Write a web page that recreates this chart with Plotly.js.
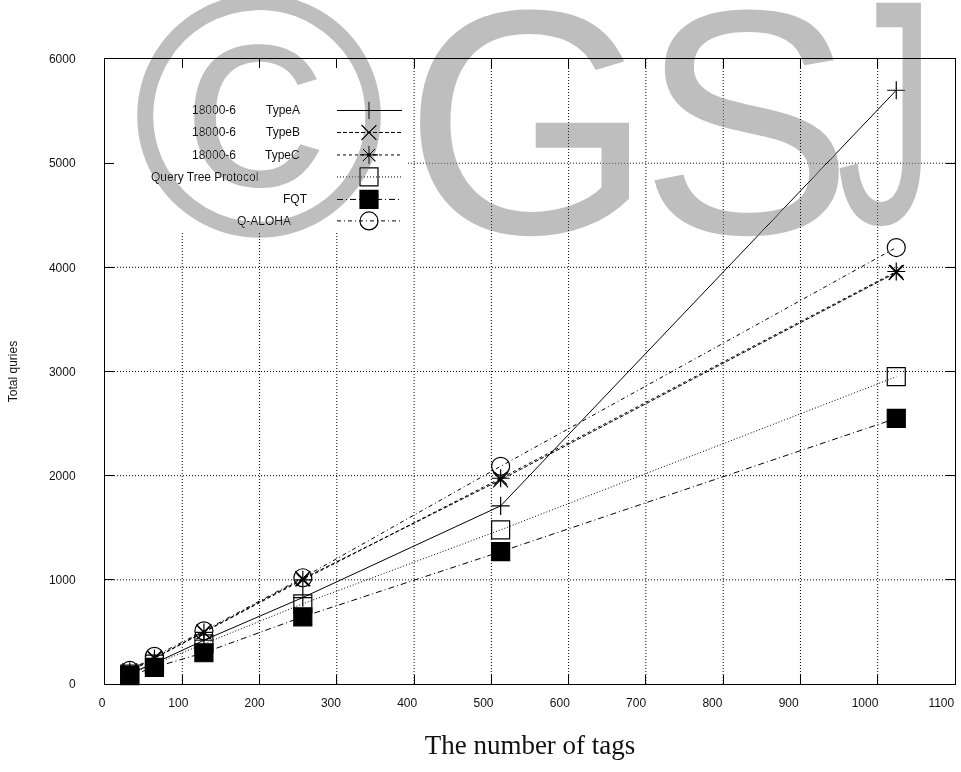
<!DOCTYPE html>
<html>
<head>
<meta charset="utf-8">
<script src="https://cdn.plot.ly/plotly-3.0.1.min.js"></script>
<style>
  html, body { margin: 0; padding: 0; background: #ffffff; }
  #wrap { position: relative; width: 961px; height: 772px; overflow: hidden; }
  #chart { position: absolute; left: 0; top: 0; width: 961px; height: 772px; }
  #wm { position: absolute; left: 0; top: 0; width: 961px; height: 772px;
        pointer-events: none; mix-blend-mode: darken; }
  #wm span { position: absolute; font-family: "Liberation Sans", Arial, sans-serif;
        color: #bebebe; line-height: 1; white-space: nowrap; }
</style>
</head>
<body>
<div id="wrap">
  <div id="chart"></div>
  <div id="wm">
    <span style="left:132px; top:-57px; font-size:345px;">©</span>
    <span style="left:404px; top:-38px; font-size:320px;">G</span>
    <span style="left:640px; top:-38px; font-size:320px;">S</span>
    <span style="left:792px; top:-48px; font-size:320px; transform: scaleX(0.62); transform-origin: 117px 0;">J</span>
  </div>
</div>
<script>
// ---- data ----
const tags      = [32, 64, 128, 256, 512, 1024];
const typeA     = [100, 200, 420, 830, 1710, 5700];
const typeB     = [125, 250, 500, 1010, 1960, 3950];
const typeC     = [120, 245, 495, 1000, 1975, 3960];
const queryTree = [95, 190, 385, 770, 1480, 2950];
const fqt       = [80, 160, 300, 645, 1270, 2550];
const qAloha    = [130, 265, 510, 1020, 2090, 4190];

const seriesNames = ["18000-6 TypeA", "18000-6 TypeB", "18000-6 TypeC",
                     "Query Tree Protocol", "FQT", "Q-ALOHA"];
const seriesData  = [typeA, typeB, typeC, queryTree, fqt, qAloha];
const xTicks = [0, 100, 200, 300, 400, 500, 600, 700, 800, 900, 1000, 1100];
const yTicks = [0, 1000, 2000, 3000, 4000, 5000, 6000];

// ---- styles ----
const styles = [
  {dash: "solid",             symbol: "cross-thin-open",  size: 13},
  {dash: "4px,2px",           symbol: "x-thin-open",      size: 15},
  {dash: "3px,3px",           symbol: "asterisk-open",    size: 15},
  {dash: "1px,2px",           symbol: "square-open",      size: 18},
  {dash: "6px,3px,1px,3px",   symbol: "square",           size: 18},
  {dash: "4px,3px,1px,3px",   symbol: "circle-open",      size: 18}
];

// legend layout (pixel coordinates of the page)
const legRows = [110.5, 132.5, 155, 177, 199.5, 221];
const legLeftText  = ["18000-6", "18000-6", "18000-6", null, null, null];
const legRightText = ["TypeA", "TypeB", "TypeC", "Query Tree Protocol", "FQT", "Q-ALOHA"];
const legRightEdge = [302, 302, 302, 260, 310, 293];
const keyX0 = 337, keyX1 = 402, keyXm = 369;
// legend box (no grid inside), in data units
const keyBoxXmax = 392, keyBoxYmin = 4340;

const traces = [];
seriesData.forEach((ys, i) => {
  const st = styles[i];
  traces.push({
    x: tags, y: ys, name: seriesNames[i], type: "scatter", mode: "lines+markers",
    line: {color: "#000", width: 1, dash: st.dash},
    marker: {symbol: st.symbol, size: st.size, color: "#000",
             line: {color: "#000", width: 1.2}},
    showlegend: false, cliponaxis: false
  });
});
// legend keys
legRows.forEach((ry, i) => {
  const st = styles[i];
  traces.push({
    x: [keyX0, keyX1], y: [ry, ry], xaxis: "x2", yaxis: "y2", type: "scatter",
    mode: "lines", line: {color: "#000", width: 1, dash: st.dash},
    showlegend: false
  });
  traces.push({
    x: [keyXm], y: [ry], xaxis: "x2", yaxis: "y2", type: "scatter",
    mode: "markers",
    marker: {symbol: st.symbol, size: st.size, color: "#000",
             line: {color: "#000", width: 1.2}},
    showlegend: false
  });
});
// invisible trace that carries the tick-label axis
traces.push({x: [0], y: [0], xaxis: "x3", yaxis: "y", type: "scatter", mode: "markers",
             marker: {opacity: 0}, showlegend: false});

const annotations = [];
legRows.forEach((ry, i) => {
  annotations.push({
    x: legRightEdge[i], y: ry, xref: "x2", yref: "y2", text: legRightText[i],
    showarrow: false, xanchor: "right", yanchor: "middle",
    font: {family: "Liberation Sans, Arial, sans-serif", size: 12, color: "#111"}
  });
  if (legLeftText[i]) {
    annotations.push({
      x: 238, y: ry, xref: "x2", yref: "y2", text: legLeftText[i],
      showarrow: false, xanchor: "right", yanchor: "middle",
      font: {family: "Liberation Sans, Arial, sans-serif", size: 12, color: "#111"}
    });
  }
});

// dotted grid drawn as shapes so the key box stays clear
const gridLine = {color: "#000", width: 1, dash: "1px,2px"};
const shapes = [];
xTicks.filter(v => v > 0 && v < 1100).forEach(v => {
  shapes.push({type: "line", xref: "x", yref: "y", x0: v, x1: v, y0: 0,
               y1: v < keyBoxXmax ? keyBoxYmin : 6000, line: gridLine, layer: "below"});
});
yTicks.filter(v => v > 0 && v < 6000).forEach(v => {
  shapes.push({type: "line", xref: "x", yref: "y", y0: v, y1: v,
               x0: v > keyBoxYmin ? keyBoxXmax : 0, x1: 1100, line: gridLine, layer: "below"});
});

const tickFont = {family: "Liberation Sans, Arial, sans-serif", size: 12, color: "#111"};

const layout = {
  width: 961, height: 772,
  margin: {l: 105, r: 6, t: 59, b: 88, pad: 0},
  paper_bgcolor: "rgba(0,0,0,0)", plot_bgcolor: "rgba(0,0,0,0)",
  showlegend: false, hovermode: false,
  xaxis: {
    range: [0, 1100], tickvals: xTicks, showticklabels: false,
    showgrid: false, zeroline: false, showline: true, linecolor: "#000", linewidth: 1,
    mirror: "ticks", ticks: "inside", ticklen: 9, tickcolor: "#000", tickwidth: 1,
    title: {text: "The number of tags", standoff: 51,
            font: {family: "Liberation Serif, Times New Roman, serif", size: 27, color: "#111"}}
  },
  // tick labels of the x axis, placed as in the reference image
  xaxis3: {
    overlaying: "x", anchor: "y", side: "bottom", range: [0, 1114],
    tickvals: xTicks, ticktext: xTicks.map(String), ticks: "", showline: false,
    showgrid: false, zeroline: false, tickfont: tickFont, ticklabelstandoff: 10,
    ticklabelshift: -3, ticklabeloverflow: "allow", fixedrange: true
  },
  yaxis: {
    range: [0, 6000], tickvals: yTicks, ticktext: yTicks.map(String),
    showgrid: false, zeroline: false, showline: true, linecolor: "#000", linewidth: 1,
    mirror: "ticks", ticks: "inside", ticklen: 9, tickcolor: "#000", tickwidth: 1,
    tickfont: tickFont, ticklabelstandoff: 26,
    title: {text: "Total quries", standoff: 28,
            font: {family: "Liberation Sans, Arial, sans-serif", size: 12, color: "#111"}}
  },
  xaxis2: {overlaying: "x", anchor: "y2", range: [105, 955], visible: false, fixedrange: true},
  yaxis2: {overlaying: "y", anchor: "x2", range: [684.3, 59], visible: false, fixedrange: true},
  shapes: shapes,
  annotations: annotations
};

Plotly.newPlot("chart", traces, layout, {staticPlot: true, displayModeBar: false});
</script>
</body>
</html>
